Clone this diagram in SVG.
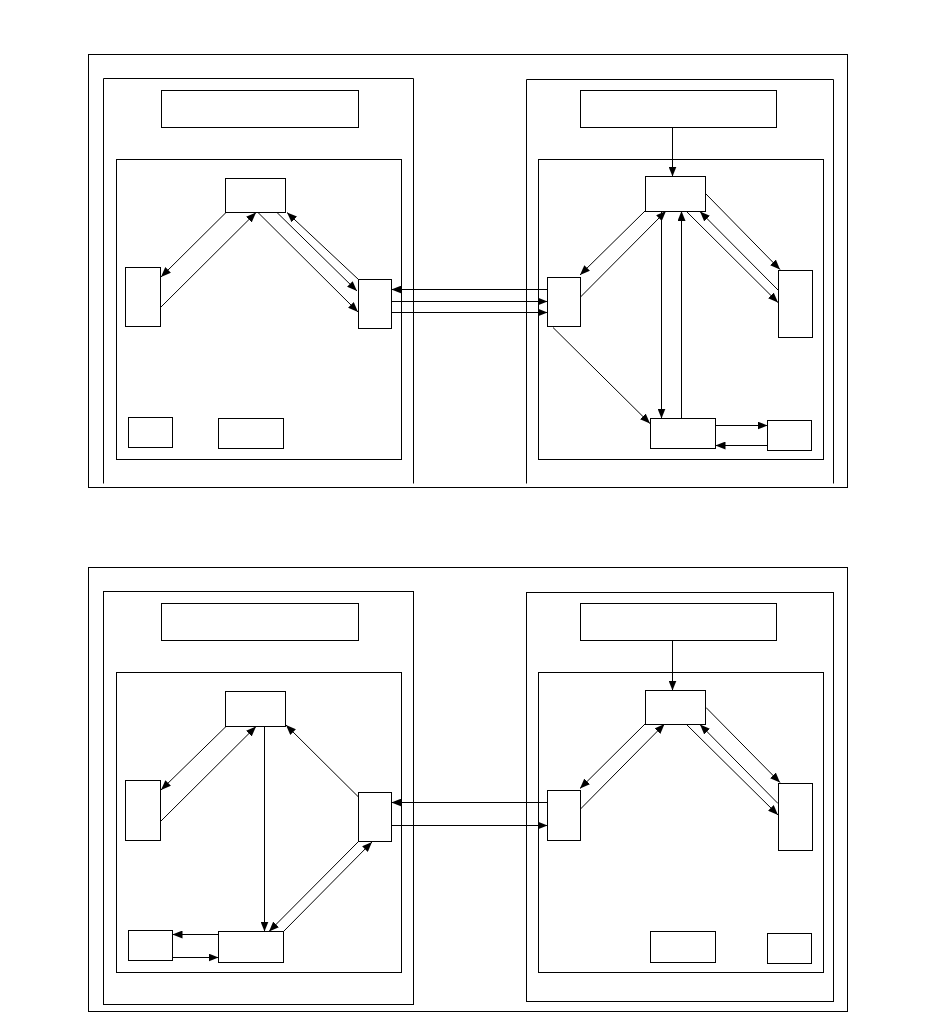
<svg xmlns="http://www.w3.org/2000/svg" width="936" height="1013" viewBox="0 0 936 1013">
<style>
.box{fill:#fff;stroke:#000;stroke-width:1}
.frame{fill:none;stroke:#000;stroke-width:1}
.c{fill:none;stroke:#000;stroke-width:1}
.a{marker-end:url(#ah)}
</style>
<defs>
<marker id="ah" viewBox="0 0 10 8" refX="10" refY="4" markerWidth="10" markerHeight="8" markerUnits="userSpaceOnUse" orient="auto">
<path d="M0,0 L10,4 L0,8 z" fill="#000"/>
</marker>
</defs>
<rect width="936" height="1013" fill="#fff"/>

<g id="frames">
<rect class="frame" x="88.5" y="54.5" width="759" height="433"/>
<path class="frame" d="M103.5,483.5 V78.5 H413.5 V483.5"/>
<path class="frame" d="M526.5,483.5 V79.5 H833.5 V483.5"/>
<rect class="frame" x="116.5" y="159.5" width="285" height="300"/>
<rect class="frame" x="538.5" y="159.5" width="285" height="300"/>
<rect class="frame" x="88.5" y="567.5" width="759" height="444"/>
<rect class="frame" x="103.5" y="591.5" width="310" height="413"/>
<rect class="frame" x="526.5" y="592.5" width="307" height="409"/>
<rect class="frame" x="116.5" y="672.5" width="285" height="300"/>
<rect class="frame" x="538.5" y="672.5" width="285" height="300"/>
</g>

<g id="connectors">
<line class="c a" x1="226" y1="212.5" x2="161" y2="277"/>
<line class="c a" x1="161" y1="307" x2="256" y2="212.5"/>
<line class="c a" x1="258" y1="212.5" x2="358" y2="312"/>
<line class="c a" x1="277" y1="212.5" x2="357" y2="291"/>
<line class="c a" x1="358.5" y1="279.5" x2="287" y2="212.5"/>
<line class="c a" x1="547.5" y1="289.5" x2="391.5" y2="289.5"/>
<line class="c a" x1="391" y1="301.5" x2="547.5" y2="301.5"/>
<line class="c a" x1="391.5" y1="312.5" x2="547.5" y2="312.5"/>
<line class="c a" x1="672.5" y1="127.5" x2="672.5" y2="176.5"/>
<line class="c a" x1="645" y1="211" x2="580" y2="275"/>
<line class="c a" x1="580.5" y1="297" x2="666" y2="211"/>
<line class="c a" x1="661.5" y1="211" x2="661.5" y2="418.5"/>
<line class="c a" x1="681.5" y1="418.5" x2="681.5" y2="211"/>
<line class="c a" x1="553" y1="327.5" x2="650" y2="423.5"/>
<line class="c a" x1="715" y1="425.5" x2="767.5" y2="425.5"/>
<line class="c a" x1="767.5" y1="445.5" x2="715.5" y2="445.5"/>
<line class="c a" x1="706" y1="194" x2="780" y2="269.5"/>
<line class="c a" x1="686" y1="211" x2="778" y2="302.5"/>
<line class="c a" x1="778" y1="290" x2="700" y2="211.5"/>
<line class="c a" x1="226" y1="726.5" x2="161" y2="790"/>
<line class="c a" x1="161" y1="821" x2="256" y2="726.5"/>
<line class="c a" x1="264.5" y1="726.5" x2="264.5" y2="931.5"/>
<line class="c a" x1="358.5" y1="797" x2="286" y2="725"/>
<line class="c a" x1="358.5" y1="841.5" x2="269" y2="931.5"/>
<line class="c a" x1="283.5" y1="931.5" x2="372" y2="842"/>
<line class="c a" x1="218.5" y1="934.5" x2="172.5" y2="934.5"/>
<line class="c a" x1="172.5" y1="957.5" x2="218.5" y2="957.5"/>
<line class="c a" x1="547.5" y1="802.5" x2="391.5" y2="802.5"/>
<line class="c a" x1="391.5" y1="825.5" x2="547.5" y2="825.5"/>
<line class="c a" x1="672.5" y1="640.5" x2="672.5" y2="690.5"/>
<line class="c a" x1="645" y1="724" x2="580" y2="788.5"/>
<line class="c a" x1="580.5" y1="809" x2="664.5" y2="724"/>
<line class="c a" x1="706" y1="707.5" x2="780" y2="782.5"/>
<line class="c a" x1="686" y1="724" x2="778" y2="815"/>
<line class="c a" x1="778" y1="803.5" x2="700" y2="724.5"/>
</g>

<g id="t-l-title"><rect class="box" x="161.5" y="90.5" width="197" height="37"/></g>
<g id="t-l-top"><rect class="box" x="225.5" y="178.5" width="60" height="34"/></g>
<g id="t-l-left"><rect class="box" x="125.5" y="267.5" width="35" height="59"/></g>
<g id="t-l-right"><rect class="box" x="358.5" y="279.5" width="33" height="49"/></g>
<g id="t-l-small"><rect class="box" x="128.5" y="417.5" width="44" height="30"/></g>
<g id="t-l-bottom"><rect class="box" x="218.5" y="418.5" width="65" height="30"/></g>

<g id="t-r-title"><rect class="box" x="580.5" y="90.5" width="196" height="37"/></g>
<g id="t-r-top"><rect class="box" x="645.5" y="176.5" width="60" height="35"/></g>
<g id="t-r-left"><rect class="box" x="547.5" y="277.5" width="33" height="49"/></g>
<g id="t-r-right"><rect class="box" x="778.5" y="270.5" width="34" height="67"/></g>
<g id="t-r-bottom"><rect class="box" x="650.5" y="418.5" width="65" height="30"/></g>
<g id="t-r-small"><rect class="box" x="767.5" y="420.5" width="44" height="30"/></g>

<g id="b-l-title"><rect class="box" x="161.5" y="603.5" width="197" height="37"/></g>
<g id="b-l-top"><rect class="box" x="225.5" y="691.5" width="60" height="35"/></g>
<g id="b-l-left"><rect class="box" x="125.5" y="780.5" width="35" height="60"/></g>
<g id="b-l-right"><rect class="box" x="358.5" y="792.5" width="33" height="49"/></g>
<g id="b-l-small"><rect class="box" x="128.5" y="930.5" width="44" height="30"/></g>
<g id="b-l-bottom"><rect class="box" x="218.5" y="931.5" width="65" height="31"/></g>

<g id="b-r-title"><rect class="box" x="580.5" y="603.5" width="196" height="37"/></g>
<g id="b-r-top"><rect class="box" x="645.5" y="690.5" width="60" height="34"/></g>
<g id="b-r-left"><rect class="box" x="547.5" y="790.5" width="33" height="50"/></g>
<g id="b-r-right"><rect class="box" x="778.5" y="783.5" width="34" height="67"/></g>
<g id="b-r-bottom"><rect class="box" x="650.5" y="931.5" width="65" height="31"/></g>
<g id="b-r-small"><rect class="box" x="767.5" y="933.5" width="44" height="30"/></g>
</svg>
